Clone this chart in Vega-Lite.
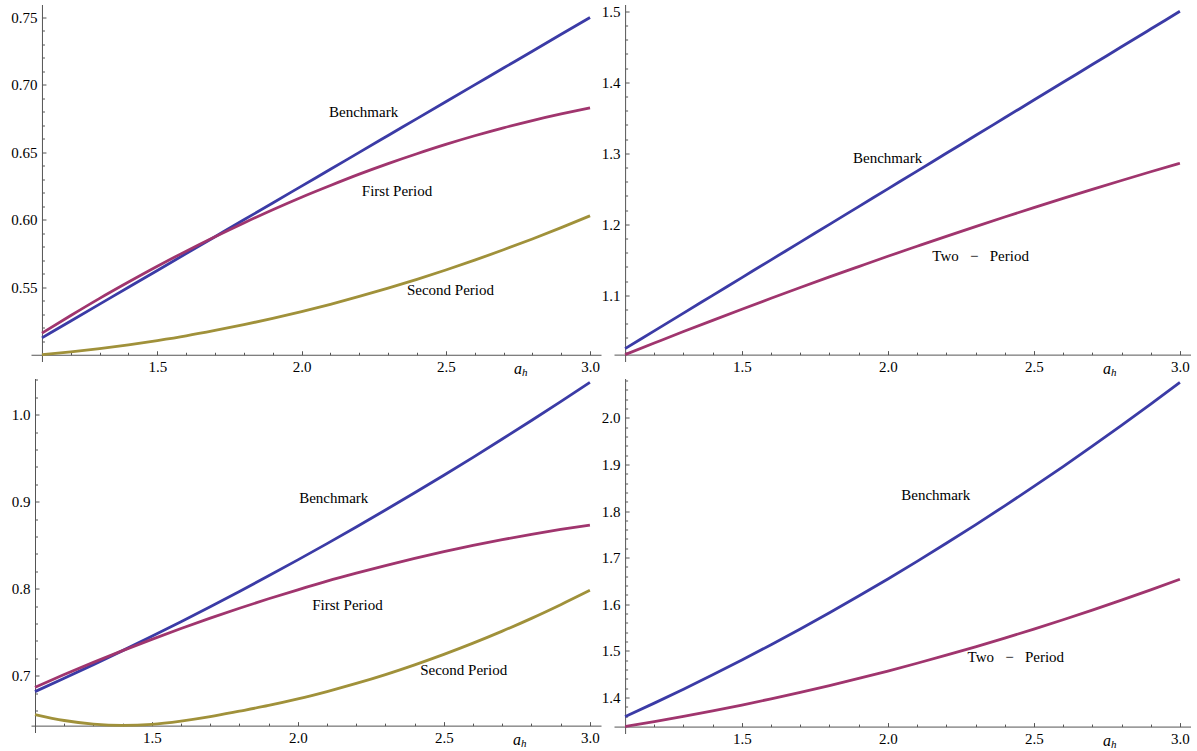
{
"$schema": "https://vega.github.io/schema/vega-lite/v6.json",
"background": "white",
"padding": {"left": 10, "top": 3.5, "right": 0, "bottom": 0},
"config": {
 "view": {"stroke": null},
 "axis": {"grid": false, "domainColor": "#555555", "domainWidth": 1, "tickColor": "#555555", "tickWidth": 1, "labelFont": "Liberation Serif", "labelFontSize": 15, "labelColor": "#000000", "labelOverlap": false, "labelFlush": false, "labelBound": false, "labelPadding": 9},
 "text": {"font": "Liberation Serif"}
},
"datasets": {
 "curves": [
{"p":"TL","s":"B","x":1.1,"y":0.5125},{"p":"TL","s":"B","x":1.2,"y":0.525},{"p":"TL","s":"B","x":1.3,"y":0.5375},{"p":"TL","s":"B","x":1.4,"y":0.55},{"p":"TL","s":"B","x":1.5,"y":0.5625},{"p":"TL","s":"B","x":1.6,"y":0.575},{"p":"TL","s":"B","x":1.7,"y":0.5875},{"p":"TL","s":"B","x":1.8,"y":0.6},{"p":"TL","s":"B","x":1.9,"y":0.6125},{"p":"TL","s":"B","x":2.0,"y":0.625},{"p":"TL","s":"B","x":2.1,"y":0.6375},{"p":"TL","s":"B","x":2.2,"y":0.65},{"p":"TL","s":"B","x":2.3,"y":0.6625},{"p":"TL","s":"B","x":2.4,"y":0.675},{"p":"TL","s":"B","x":2.5,"y":0.6875},{"p":"TL","s":"B","x":2.6,"y":0.7},{"p":"TL","s":"B","x":2.7,"y":0.7125},{"p":"TL","s":"B","x":2.8,"y":0.725},{"p":"TL","s":"B","x":2.9,"y":0.7375},{"p":"TL","s":"B","x":3.0,"y":0.75},
{"p":"TL","s":"F","x":1.1,"y":0.516},{"p":"TL","s":"F","x":1.2,"y":0.5291},{"p":"TL","s":"F","x":1.3,"y":0.5418},{"p":"TL","s":"F","x":1.4,"y":0.5539},{"p":"TL","s":"F","x":1.5,"y":0.5656},{"p":"TL","s":"F","x":1.6,"y":0.5768},{"p":"TL","s":"F","x":1.7,"y":0.5875},{"p":"TL","s":"F","x":1.8,"y":0.5977},{"p":"TL","s":"F","x":1.9,"y":0.6075},{"p":"TL","s":"F","x":2.0,"y":0.6168},{"p":"TL","s":"F","x":2.1,"y":0.6255},{"p":"TL","s":"F","x":2.2,"y":0.6339},{"p":"TL","s":"F","x":2.3,"y":0.6417},{"p":"TL","s":"F","x":2.4,"y":0.649},{"p":"TL","s":"F","x":2.5,"y":0.6559},{"p":"TL","s":"F","x":2.6,"y":0.6623},{"p":"TL","s":"F","x":2.7,"y":0.6682},{"p":"TL","s":"F","x":2.8,"y":0.6736},{"p":"TL","s":"F","x":2.9,"y":0.6785},{"p":"TL","s":"F","x":3.0,"y":0.683},
{"p":"TL","s":"S","x":1.1,"y":0.5},{"p":"TL","s":"S","x":1.2,"y":0.5021},{"p":"TL","s":"S","x":1.3,"y":0.5045},{"p":"TL","s":"S","x":1.4,"y":0.5073},{"p":"TL","s":"S","x":1.5,"y":0.5105},{"p":"TL","s":"S","x":1.6,"y":0.514},{"p":"TL","s":"S","x":1.7,"y":0.518},{"p":"TL","s":"S","x":1.8,"y":0.5223},{"p":"TL","s":"S","x":1.9,"y":0.527},{"p":"TL","s":"S","x":2.0,"y":0.532},{"p":"TL","s":"S","x":2.1,"y":0.5374},{"p":"TL","s":"S","x":2.2,"y":0.5432},{"p":"TL","s":"S","x":2.3,"y":0.5494},{"p":"TL","s":"S","x":2.4,"y":0.5559},{"p":"TL","s":"S","x":2.5,"y":0.5628},{"p":"TL","s":"S","x":2.6,"y":0.5701},{"p":"TL","s":"S","x":2.7,"y":0.5778},{"p":"TL","s":"S","x":2.8,"y":0.5858},{"p":"TL","s":"S","x":2.9,"y":0.5942},{"p":"TL","s":"S","x":3.0,"y":0.603},
{"p":"TR","s":"B","x":1.1,"y":1.025},{"p":"TR","s":"B","x":1.2,"y":1.05},{"p":"TR","s":"B","x":1.3,"y":1.075},{"p":"TR","s":"B","x":1.4,"y":1.1},{"p":"TR","s":"B","x":1.5,"y":1.125},{"p":"TR","s":"B","x":1.6,"y":1.15},{"p":"TR","s":"B","x":1.7,"y":1.175},{"p":"TR","s":"B","x":1.8,"y":1.2},{"p":"TR","s":"B","x":1.9,"y":1.225},{"p":"TR","s":"B","x":2.0,"y":1.25},{"p":"TR","s":"B","x":2.1,"y":1.275},{"p":"TR","s":"B","x":2.2,"y":1.3},{"p":"TR","s":"B","x":2.3,"y":1.325},{"p":"TR","s":"B","x":2.4,"y":1.35},{"p":"TR","s":"B","x":2.5,"y":1.375},{"p":"TR","s":"B","x":2.6,"y":1.4},{"p":"TR","s":"B","x":2.7,"y":1.425},{"p":"TR","s":"B","x":2.8,"y":1.45},{"p":"TR","s":"B","x":2.9,"y":1.475},{"p":"TR","s":"B","x":3.0,"y":1.5},
{"p":"TR","s":"T","x":1.1,"y":1.0165},{"p":"TR","s":"T","x":1.2,"y":1.0328},{"p":"TR","s":"T","x":1.3,"y":1.049},{"p":"TR","s":"T","x":1.4,"y":1.0648},{"p":"TR","s":"T","x":1.5,"y":1.0804},{"p":"TR","s":"T","x":1.6,"y":1.0958},{"p":"TR","s":"T","x":1.7,"y":1.111},{"p":"TR","s":"T","x":1.8,"y":1.1259},{"p":"TR","s":"T","x":1.9,"y":1.1405},{"p":"TR","s":"T","x":2.0,"y":1.155},{"p":"TR","s":"T","x":2.1,"y":1.1691},{"p":"TR","s":"T","x":2.2,"y":1.1831},{"p":"TR","s":"T","x":2.3,"y":1.1968},{"p":"TR","s":"T","x":2.4,"y":1.2103},{"p":"TR","s":"T","x":2.5,"y":1.2235},{"p":"TR","s":"T","x":2.6,"y":1.2365},{"p":"TR","s":"T","x":2.7,"y":1.2492},{"p":"TR","s":"T","x":2.8,"y":1.2617},{"p":"TR","s":"T","x":2.9,"y":1.274},{"p":"TR","s":"T","x":3.0,"y":1.286},
{"p":"BL","s":"B","x":1.1,"y":0.6816},{"p":"BL","s":"B","x":1.2,"y":0.6969},{"p":"BL","s":"B","x":1.3,"y":0.7126},{"p":"BL","s":"B","x":1.4,"y":0.7287},{"p":"BL","s":"B","x":1.5,"y":0.7452},{"p":"BL","s":"B","x":1.6,"y":0.762},{"p":"BL","s":"B","x":1.7,"y":0.7792},{"p":"BL","s":"B","x":1.8,"y":0.7968},{"p":"BL","s":"B","x":1.9,"y":0.8147},{"p":"BL","s":"B","x":2.0,"y":0.833},{"p":"BL","s":"B","x":2.1,"y":0.8517},{"p":"BL","s":"B","x":2.2,"y":0.8708},{"p":"BL","s":"B","x":2.3,"y":0.8903},{"p":"BL","s":"B","x":2.4,"y":0.9101},{"p":"BL","s":"B","x":2.5,"y":0.9303},{"p":"BL","s":"B","x":2.6,"y":0.9509},{"p":"BL","s":"B","x":2.7,"y":0.9719},{"p":"BL","s":"B","x":2.8,"y":0.9932},{"p":"BL","s":"B","x":2.9,"y":1.0149},{"p":"BL","s":"B","x":3.0,"y":1.037},
{"p":"BL","s":"F","x":1.1,"y":0.6866},{"p":"BL","s":"F","x":1.2,"y":0.7012},{"p":"BL","s":"F","x":1.3,"y":0.7152},{"p":"BL","s":"F","x":1.4,"y":0.7287},{"p":"BL","s":"F","x":1.5,"y":0.7417},{"p":"BL","s":"F","x":1.6,"y":0.7541},{"p":"BL","s":"F","x":1.7,"y":0.766},{"p":"BL","s":"F","x":1.8,"y":0.7774},{"p":"BL","s":"F","x":1.9,"y":0.7883},{"p":"BL","s":"F","x":2.0,"y":0.7986},{"p":"BL","s":"F","x":2.1,"y":0.8085},{"p":"BL","s":"F","x":2.2,"y":0.8177},{"p":"BL","s":"F","x":2.3,"y":0.8265},{"p":"BL","s":"F","x":2.4,"y":0.8347},{"p":"BL","s":"F","x":2.5,"y":0.8424},{"p":"BL","s":"F","x":2.6,"y":0.8496},{"p":"BL","s":"F","x":2.7,"y":0.8562},{"p":"BL","s":"F","x":2.8,"y":0.8624},{"p":"BL","s":"F","x":2.9,"y":0.868},{"p":"BL","s":"F","x":3.0,"y":0.873},
{"p":"BL","s":"S","x":1.1,"y":0.6552},{"p":"BL","s":"S","x":1.2,"y":0.6484},{"p":"BL","s":"S","x":1.3,"y":0.6443},{"p":"BL","s":"S","x":1.4,"y":0.6428},{"p":"BL","s":"S","x":1.5,"y":0.644},{"p":"BL","s":"S","x":1.6,"y":0.6477},{"p":"BL","s":"S","x":1.7,"y":0.6528},{"p":"BL","s":"S","x":1.8,"y":0.6591},{"p":"BL","s":"S","x":1.9,"y":0.6657},{"p":"BL","s":"S","x":2.0,"y":0.6732},{"p":"BL","s":"S","x":2.1,"y":0.6817},{"p":"BL","s":"S","x":2.2,"y":0.691},{"p":"BL","s":"S","x":2.3,"y":0.7012},{"p":"BL","s":"S","x":2.4,"y":0.7124},{"p":"BL","s":"S","x":2.5,"y":0.7244},{"p":"BL","s":"S","x":2.6,"y":0.7373},{"p":"BL","s":"S","x":2.7,"y":0.7511},{"p":"BL","s":"S","x":2.8,"y":0.7658},{"p":"BL","s":"S","x":2.9,"y":0.7815},{"p":"BL","s":"S","x":3.0,"y":0.798},
{"p":"BR","s":"B","x":1.1,"y":1.3593},{"p":"BR","s":"B","x":1.2,"y":1.3882},{"p":"BR","s":"B","x":1.3,"y":1.418},{"p":"BR","s":"B","x":1.4,"y":1.4488},{"p":"BR","s":"B","x":1.5,"y":1.4806},{"p":"BR","s":"B","x":1.6,"y":1.5134},{"p":"BR","s":"B","x":1.7,"y":1.5472},{"p":"BR","s":"B","x":1.8,"y":1.5819},{"p":"BR","s":"B","x":1.9,"y":1.6177},{"p":"BR","s":"B","x":2.0,"y":1.6544},{"p":"BR","s":"B","x":2.1,"y":1.6921},{"p":"BR","s":"B","x":2.2,"y":1.7308},{"p":"BR","s":"B","x":2.3,"y":1.7704},{"p":"BR","s":"B","x":2.4,"y":1.8111},{"p":"BR","s":"B","x":2.5,"y":1.8527},{"p":"BR","s":"B","x":2.6,"y":1.8953},{"p":"BR","s":"B","x":2.7,"y":1.9389},{"p":"BR","s":"B","x":2.8,"y":1.9835},{"p":"BR","s":"B","x":2.9,"y":2.029},{"p":"BR","s":"B","x":3.0,"y":2.0755},
{"p":"BR","s":"T","x":1.1,"y":1.3379},{"p":"BR","s":"T","x":1.2,"y":1.3484},{"p":"BR","s":"T","x":1.3,"y":1.3596},{"p":"BR","s":"T","x":1.4,"y":1.3715},{"p":"BR","s":"T","x":1.5,"y":1.3841},{"p":"BR","s":"T","x":1.6,"y":1.3973},{"p":"BR","s":"T","x":1.7,"y":1.4112},{"p":"BR","s":"T","x":1.8,"y":1.4258},{"p":"BR","s":"T","x":1.9,"y":1.4411},{"p":"BR","s":"T","x":2.0,"y":1.457},{"p":"BR","s":"T","x":2.1,"y":1.4737},{"p":"BR","s":"T","x":2.2,"y":1.491},{"p":"BR","s":"T","x":2.3,"y":1.5089},{"p":"BR","s":"T","x":2.4,"y":1.5276},{"p":"BR","s":"T","x":2.5,"y":1.5469},{"p":"BR","s":"T","x":2.6,"y":1.5669},{"p":"BR","s":"T","x":2.7,"y":1.5876},{"p":"BR","s":"T","x":2.8,"y":1.609},{"p":"BR","s":"T","x":2.9,"y":1.631},{"p":"BR","s":"T","x":3.0,"y":1.6537}
 ],
 "labels": [
{"p":"TL","x":2.215,"y":0.6797,"t":"Benchmark"},
{"p":"TL","x":2.331,"y":0.6211,"t":"First Period"},
{"p":"TL","x":2.516,"y":0.548,"t":"Second Period"},
{"p":"TR","x":1.999,"y":1.2939,"t":"Benchmark"},
{"p":"TR","x":2.3175,"y":1.1555,"t":"Two\u00a0\u00a0\u00a0\u2212\u00a0\u00a0\u00a0Period"},
{"p":"BL","x":2.123,"y":0.9043,"t":"Benchmark"},
{"p":"BL","x":2.17,"y":0.7808,"t":"First Period"},
{"p":"BL","x":2.568,"y":0.7066,"t":"Second Period"},
{"p":"BR","x":2.164,"y":1.8336,"t":"Benchmark"},
{"p":"BR","x":2.438,"y":1.4863,"t":"Two\u00a0\u00a0\u00a0\u2212\u00a0\u00a0\u00a0Period"}
 ],
 "axlab": [
{"p":"TL","x":2.75,"y":0.5},
{"p":"TR","x":2.75,"y":1.0165},
{"p":"BL","x":2.75,"y":0.6425},
{"p":"BR","x":2.75,"y":1.3379}
 ]
},
"columns": 2,
"spacing": {"row": -11.5, "column": 0},
"concat": [
{
 "width": 570, "height": 357,
 "encoding": {
  "x": {"field": "x", "type": "quantitative", "scale": {"domain": [1.062, 3.038], "nice": false, "zero": false},
        "axis": {"title": null, "orient": "bottom", "offset": -6.75, "values": [1.2,1.3,1.4,1.5,1.6,1.7,1.8,1.9,2.0,2.1,2.2,2.3,2.4,2.5,2.6,2.7,2.8,2.9,3.0],
                 "labelExpr": "abs(datum.value*2-round(datum.value*2))<0.01 ? format(datum.value,'.1f') : ''",
                 "tickSize": {"condition": {"test": "abs(datum.value*2-round(datum.value*2))<0.01", "value": -4}, "value": -2.5}}},
  "y": {"field": "y", "type": "quantitative", "scale": {"domain": [0.495, 0.7596], "nice": false, "zero": false},
        "axis": {"title": null, "orient": "left", "offset": -10.96, "values": [0.51,0.52,0.53,0.54,0.55,0.56,0.57,0.58,0.59,0.6,0.61,0.62,0.63,0.64,0.65,0.66,0.67,0.68,0.69,0.7,0.71,0.72,0.73,0.74,0.75],
                 "labelExpr": "abs(datum.value*20-round(datum.value*20))<0.01 ? format(datum.value,'.2f') : ''",
                 "tickSize": {"condition": {"test": "abs(datum.value*20-round(datum.value*20))<0.01", "value": -4}, "value": -2.5}}}
 },
 "layer": [
  {"data": {"name": "curves"}, "transform": [{"filter": "datum.p == 'TL'"}],
   "mark": {"type": "line", "strokeWidth": 2.8, "interpolate": "monotone"},
   "encoding": {"color": {"field": "s", "type": "nominal", "scale": {"domain": ["B","F","S","T"], "range": ["#3B3BA6","#A0356E","#A0913A","#A0356E"]}, "legend": null}}},
  {"data": {"name": "labels"}, "transform": [{"filter": "datum.p == 'TL'"}],
   "mark": {"type": "text", "fontSize": 15, "color": "#000000", "align": "center", "baseline": "middle"},
   "encoding": {"text": {"field": "t"}}},
  {"data": {"name": "axlab"}, "transform": [{"filter": "datum.p == 'TL'"}],
   "mark": {"type": "text", "text": "a", "fontSize": 16, "fontStyle": "italic", "color": "#000000", "align": "center", "baseline": "alphabetic", "dy": 19}},
  {"data": {"name": "axlab"}, "transform": [{"filter": "datum.p == 'TL'"}],
   "mark": {"type": "text", "text": "h", "fontSize": 11, "fontStyle": "italic", "color": "#000000", "align": "left", "baseline": "alphabetic", "dx": 4, "dy": 21}}
 ]
},
{
 "width": 577, "height": 357,
 "encoding": {
  "x": {"field": "x", "type": "quantitative", "scale": {"domain": [1.062, 3.038], "nice": false, "zero": false},
        "axis": {"title": null, "orient": "bottom", "offset": -6.89, "values": [1.2,1.3,1.4,1.5,1.6,1.7,1.8,1.9,2.0,2.1,2.2,2.3,2.4,2.5,2.6,2.7,2.8,2.9,3.0],
                 "labelExpr": "abs(datum.value*2-round(datum.value*2))<0.01 ? format(datum.value,'.1f') : ''",
                 "tickSize": {"condition": {"test": "abs(datum.value*2-round(datum.value*2))<0.01", "value": -4}, "value": -2.5}}},
  "y": {"field": "y", "type": "quantitative", "scale": {"domain": [1.0068, 1.5096], "nice": false, "zero": false},
        "axis": {"title": null, "orient": "left", "offset": -11.1, "values": [1.02,1.04,1.06,1.08,1.1,1.12,1.14,1.16,1.18,1.2,1.22,1.24,1.26,1.28,1.3,1.32,1.34,1.36,1.38,1.4,1.42,1.44,1.46,1.48,1.5],
                 "labelExpr": "abs(datum.value*10-round(datum.value*10))<0.01 ? format(datum.value,'.1f') : ''",
                 "tickSize": {"condition": {"test": "abs(datum.value*10-round(datum.value*10))<0.01", "value": -4}, "value": -2.5}}}
 },
 "layer": [
  {"data": {"name": "curves"}, "transform": [{"filter": "datum.p == 'TR'"}],
   "mark": {"type": "line", "strokeWidth": 2.8, "interpolate": "monotone"},
   "encoding": {"color": {"field": "s", "type": "nominal", "scale": {"domain": ["B","F","S","T"], "range": ["#3B3BA6","#A0356E","#A0913A","#A0356E"]}, "legend": null}}},
  {"data": {"name": "labels"}, "transform": [{"filter": "datum.p == 'TR'"}],
   "mark": {"type": "text", "fontSize": 15, "color": "#000000", "align": "center", "baseline": "middle"},
   "encoding": {"text": {"field": "t"}}},
  {"data": {"name": "axlab"}, "transform": [{"filter": "datum.p == 'TR'"}],
   "mark": {"type": "text", "text": "a", "fontSize": 16, "fontStyle": "italic", "color": "#000000", "align": "center", "baseline": "alphabetic", "dy": 19}},
  {"data": {"name": "axlab"}, "transform": [{"filter": "datum.p == 'TR'"}],
   "mark": {"type": "text", "text": "h", "fontSize": 11, "fontStyle": "italic", "color": "#000000", "align": "left", "baseline": "alphabetic", "dx": 4, "dy": 21}}
 ]
},
{
 "width": 570, "height": 354,
 "encoding": {
  "x": {"field": "x", "type": "quantitative", "scale": {"domain": [1.0863, 3.038], "nice": false, "zero": false},
        "axis": {"title": null, "orient": "bottom", "offset": -6.87, "values": [1.2,1.3,1.4,1.5,1.6,1.7,1.8,1.9,2.0,2.1,2.2,2.3,2.4,2.5,2.6,2.7,2.8,2.9,3.0],
                 "labelExpr": "abs(datum.value*2-round(datum.value*2))<0.01 ? format(datum.value,'.1f') : ''",
                 "tickSize": {"condition": {"test": "abs(datum.value*2-round(datum.value*2))<0.01", "value": -4}, "value": -2.5}}},
  "y": {"field": "y", "type": "quantitative", "scale": {"domain": [0.6346, 1.0415], "nice": false, "zero": false},
        "axis": {"title": null, "orient": "left", "offset": -4, "values": [0.66,0.68,0.7,0.72,0.74,0.76,0.78,0.8,0.82,0.84,0.86,0.88,0.9,0.92,0.94,0.96,0.98,1.0,1.02,1.04],
                 "labelExpr": "abs(datum.value*10-round(datum.value*10))<0.01 ? format(datum.value,'.1f') : ''",
                 "tickSize": {"condition": {"test": "abs(datum.value*10-round(datum.value*10))<0.01", "value": -4}, "value": -2.5}}}
 },
 "layer": [
  {"data": {"name": "curves"}, "transform": [{"filter": "datum.p == 'BL'"}],
   "mark": {"type": "line", "strokeWidth": 2.8, "interpolate": "monotone"},
   "encoding": {"color": {"field": "s", "type": "nominal", "scale": {"domain": ["B","F","S","T"], "range": ["#3B3BA6","#A0356E","#A0913A","#A0356E"]}, "legend": null}}},
  {"data": {"name": "labels"}, "transform": [{"filter": "datum.p == 'BL'"}],
   "mark": {"type": "text", "fontSize": 15, "color": "#000000", "align": "center", "baseline": "middle"},
   "encoding": {"text": {"field": "t"}}},
  {"data": {"name": "axlab"}, "transform": [{"filter": "datum.p == 'BL'"}],
   "mark": {"type": "text", "text": "a", "fontSize": 16, "fontStyle": "italic", "color": "#000000", "align": "center", "baseline": "alphabetic", "dy": 19}},
  {"data": {"name": "axlab"}, "transform": [{"filter": "datum.p == 'BL'"}],
   "mark": {"type": "text", "text": "h", "fontSize": 11, "fontStyle": "italic", "color": "#000000", "align": "left", "baseline": "alphabetic", "dx": 4, "dy": 21}}
 ]
},
{
 "width": 577, "height": 355,
 "encoding": {
  "x": {"field": "x", "type": "quantitative", "scale": {"domain": [1.062, 3.038], "nice": false, "zero": false},
        "axis": {"title": null, "orient": "bottom", "offset": -6.91, "values": [1.2,1.3,1.4,1.5,1.6,1.7,1.8,1.9,2.0,2.1,2.2,2.3,2.4,2.5,2.6,2.7,2.8,2.9,3.0],
                 "labelExpr": "abs(datum.value*2-round(datum.value*2))<0.01 ? format(datum.value,'.1f') : ''",
                 "tickSize": {"condition": {"test": "abs(datum.value*2-round(datum.value*2))<0.01", "value": -4}, "value": -2.5}}},
  "y": {"field": "y", "type": "quantitative", "scale": {"domain": [1.3231, 2.084], "nice": false, "zero": false},
        "axis": {"title": null, "orient": "left", "offset": -11.1, "values": [1.34,1.36,1.38,1.4,1.42,1.44,1.46,1.48,1.5,1.52,1.54,1.56,1.58,1.6,1.62,1.64,1.66,1.68,1.7,1.72,1.74,1.76,1.78,1.8,1.82,1.84,1.86,1.88,1.9,1.92,1.94,1.96,1.98,2.0,2.02,2.04,2.06,2.08],
                 "labelExpr": "abs(datum.value*10-round(datum.value*10))<0.01 ? format(datum.value,'.1f') : ''",
                 "tickSize": {"condition": {"test": "abs(datum.value*10-round(datum.value*10))<0.01", "value": -4}, "value": -2.5}}}
 },
 "layer": [
  {"data": {"name": "curves"}, "transform": [{"filter": "datum.p == 'BR'"}],
   "mark": {"type": "line", "strokeWidth": 2.8, "interpolate": "monotone"},
   "encoding": {"color": {"field": "s", "type": "nominal", "scale": {"domain": ["B","F","S","T"], "range": ["#3B3BA6","#A0356E","#A0913A","#A0356E"]}, "legend": null}}},
  {"data": {"name": "labels"}, "transform": [{"filter": "datum.p == 'BR'"}],
   "mark": {"type": "text", "fontSize": 15, "color": "#000000", "align": "center", "baseline": "middle"},
   "encoding": {"text": {"field": "t"}}},
  {"data": {"name": "axlab"}, "transform": [{"filter": "datum.p == 'BR'"}],
   "mark": {"type": "text", "text": "a", "fontSize": 16, "fontStyle": "italic", "color": "#000000", "align": "center", "baseline": "alphabetic", "dy": 19}},
  {"data": {"name": "axlab"}, "transform": [{"filter": "datum.p == 'BR'"}],
   "mark": {"type": "text", "text": "h", "fontSize": 11, "fontStyle": "italic", "color": "#000000", "align": "left", "baseline": "alphabetic", "dx": 4, "dy": 21}}
 ]
}
]
}
